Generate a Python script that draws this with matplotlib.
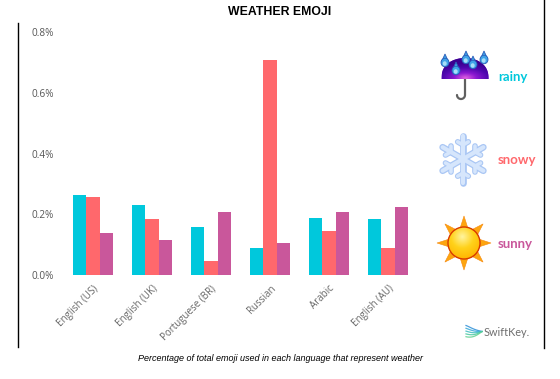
import numpy as np
import matplotlib
matplotlib.use("Agg")
import matplotlib.pyplot as plt
from matplotlib.colors import LinearSegmentedColormap
from matplotlib.patches import Circle, Polygon, Ellipse

# Data ----------------------
languages = ["English (US)", "English (UK)", "Portuguese (BR)", "Russian", "Arabic", "English (AU)"]
rainy = [0.264, 0.231, 0.160, 0.089, 0.188, 0.185]
snowy = [0.257, 0.184, 0.046, 0.709, 0.145, 0.089]
sunny = [0.139, 0.115, 0.208, 0.106, 0.208, 0.224]
y_ticks = [0.0, 0.2, 0.4, 0.6, 0.8]

RAINY_COL = "#00C8DC"
SNOWY_COL = "#FF686C"
SUNNY_COL = "#C9579B"
W, H = 560, 379


def gradient(ax, clip, extent, colors, center=(0.5, 0.5), zorder=3):
    """Paint a radial gradient into extent (x0, x1, y0, y1) and clip it to a patch."""
    yy, xx = np.mgrid[0:1:80j, 0:1:80j]
    z = np.hypot(xx - center[0], yy - center[1]) / 0.72
    cmap = LinearSegmentedColormap.from_list("g", colors)
    im = ax.imshow(z, extent=extent, cmap=cmap, vmin=0, vmax=1, aspect="auto", zorder=zorder, origin="upper")
    im.set_clip_path(clip)


def drop(ax, x, y):
    # one raindrop, y is the middle of its round part
    ax.add_patch(Polygon([(x - 3.6, y), (x, y - 8), (x + 3.6, y)], fc="#3FA4E8", ec="#2A5CB8", lw=0.6, zorder=5))
    ax.add_patch(Ellipse((x, y + 0.5), 8, 8.5, fc="#3FA4E8", ec="#2A5CB8", lw=0.6, zorder=5))
    ax.add_patch(Ellipse((x - 0.3, y + 1.5), 4, 4.5, fc="#A8DEF8", ec="none", zorder=6))


def umbrella(ax):
    cx, base, rx, ry = 465, 79, 23.5, 21
    t = np.linspace(np.pi, 0, 50)
    pts = np.column_stack([cx + rx * np.cos(t), base - ry * np.sin(t) ** 0.8])
    dome = Polygon(pts, fc="#6A10C0", ec="none", zorder=3)
    ax.add_patch(dome)
    gradient(ax, dome, (cx - rx, cx + rx, base, base - ry),
             ["#E060E0", "#8A18D0", "#5008B0", "#3A0090"], center=(0.5, 0.95))
    # stem and hook
    a = np.linspace(0, np.pi, 20)
    hx = np.r_[465, 465, 461 + 4 * np.cos(a)]
    hy = np.r_[79, 95, 95 + 4 * np.sin(a)]
    ax.plot(hx, hy, color="#606060", lw=1.6, solid_capstyle="round", zorder=2)
    for x, y in [(445, 62), (456, 70), (466, 59), (473, 64), (484, 59)]:
        drop(ax, x, y)


def snowflake(ax):
    cx, cy, r = 463, 159, 23.5
    for col, lw in [("#A9C6F4", 4.8), ("#D6E6FC", 3.0)]:
        for k in range(6):
            ang = np.pi / 2 + k * np.pi / 3
            ax.plot([cx, cx + r * np.cos(ang)], [cy, cy + r * np.sin(ang)],
                    color=col, lw=lw, solid_capstyle="round", zorder=3)
            # side branches
            bx, by = cx + 0.6 * r * np.cos(ang), cy + 0.6 * r * np.sin(ang)
            for da in (-np.pi / 3, np.pi / 3):
                ax.plot([bx, bx + 0.26 * r * np.cos(ang + da)], [by, by + 0.26 * r * np.sin(ang + da)],
                        color=col, lw=lw * 0.85, solid_capstyle="round", zorder=3)


def sun(ax):
    cx, cy = 464, 243
    for k in range(8):
        ang = k * np.pi / 4 + np.pi / 2
        tip = (cx + 27 * np.cos(ang), cy + 27 * np.sin(ang))
        a1 = (cx + 14 * np.cos(ang + 0.32), cy + 14 * np.sin(ang + 0.32))
        a2 = (cx + 14 * np.cos(ang - 0.32), cy + 14 * np.sin(ang - 0.32))
        ax.add_patch(Polygon([tip, a1, a2], fc="#FDA50F", ec="#F78A10", lw=0.4, zorder=3))
    disc = Circle((cx, cy), 16, fc="#FFC000", ec="none", zorder=4)
    ax.add_patch(disc)
    gradient(ax, disc, (cx - 16, cx + 16, cy + 16, cy - 16),
             ["#FFF4A0", "#FFD21A", "#FFB400"], center=(0.45, 0.3), zorder=5)
    ax.add_patch(Circle((cx, cy), 16, fc="none", ec="#D83A00", lw=1.0, zorder=6))


def logo(ax):
    # SwiftKey swoosh, a few bent strokes going from blue to green
    cols = ["#2D8FD8", "#35A8D8", "#3DBDC0", "#48C8A0", "#60D090"]
    x = np.linspace(466, 482, 30)
    for i, c in enumerate(cols):
        y0 = 325.5 + i * 2.8
        y = y0 + (331.5 - y0) * ((x - 466) / 16) ** 1.5 + 1.5 * np.sin((x - 466) / 16 * np.pi)
        ax.plot(x, y, color=c, lw=0.9, alpha=0.85, zorder=3)
    ax.text(484, 332, "SwiftKey.", family="Lato", fontsize=7.8, color="#6E6E6E", va="center", ha="left")


fig = plt.figure(figsize=(W / 100, H / 100), dpi=100)
ax = fig.add_axes([63.5 / W, 1 - 275 / H, 354 / W, 242.5 / H])

x = np.arange(len(languages))
bar_w = 0.225
ax.bar(x - bar_w, rainy, bar_w, color=RAINY_COL)
ax.bar(x, snowy, bar_w, color=SNOWY_COL)
ax.bar(x + bar_w, sunny, bar_w, color=SUNNY_COL)

ax.set_xlim(-0.5, 5.5)
ax.set_ylim(0, 0.8)
ax.set_yticks(y_ticks)
ax.set_yticklabels([f"{v:.1f}%" for v in y_ticks], family="Open Sans", fontsize=7.2, color="#555555")
ax.set_xticks(x)
ax.set_xticklabels(languages, family="Open Sans", fontsize=7.0, color="#666666",
                   rotation=45, ha="right", va="top", rotation_mode="anchor")
ax.tick_params(axis="both", length=0)
ax.tick_params(axis="y", pad=7)
ax.tick_params(axis="x", pad=6)
for s in ax.spines.values():
    s.set_visible(False)

# overlay in picture pixels for frame lines, texts and icons
ov = fig.add_axes([0, 0, 1, 1], facecolor="none")
ov.axis("off")
ov.plot([17.5, 17.5], [23, 347], color="black", lw=1.0)
ov.plot([543.5, 543.5], [0, 348], color="black", lw=1.0)
ov.text(279.5, 12, "WEATHER EMOJI", family="Liberation Sans", weight="bold", fontsize=8.8,
        ha="center", va="center", color="black")
ov.text(280, 358.5, "Percentage of total emoji used in each language that represent weather",
        family="Liberation Sans", style="italic", fontsize=6.5, ha="center", va="center", color="black")
ov.text(498, 77, "rainy", family="Lato", weight="bold", fontsize=9.5, color=RAINY_COL, va="center")
ov.text(498, 160, "snowy", family="Lato", weight="bold", fontsize=9.5, color=SNOWY_COL, va="center")
ov.text(498, 244, "sunny", family="Lato", weight="bold", fontsize=9.5, color=SUNNY_COL, va="center")
umbrella(ov)
snowflake(ov)
sun(ov)
logo(ov)
ov.set_xlim(0, W)
ov.set_ylim(H, 0)

fig.savefig("out.png", dpi=100)
